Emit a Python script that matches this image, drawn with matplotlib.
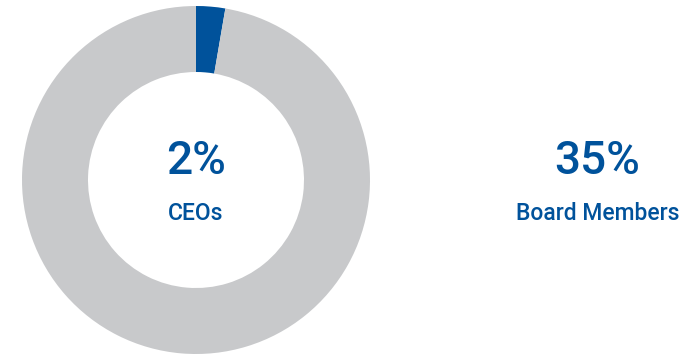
import matplotlib.pyplot as plt

# share of CEOs drawn as the wedge; the remainder is the grey ring
labels = ["CEOs", "Other"]
shares = [2.7, 97.3]
ceo_label = "2%"
board_label = "35%"
board_text = "Board Members"

BLUE = "#00529b"
GREY = "#c8c9cb"

plt.rcParams["font.family"] = ["Roboto", "DejaVu Sans"]

fig = plt.figure(figsize=(6.96, 3.55), dpi=100)
ax = fig.add_axes([0, 0, 1, 1])

ax.pie(shares, colors=[BLUE, GREY], startangle=90, counterclock=False,
       center=(196, 175), radius=174, frame=True,
       wedgeprops=dict(width=66, linewidth=0))
ax.set_xlim(0, 696)
ax.set_ylim(0, 355)
ax.set_aspect("equal")
ax.axis("off")

kw = dict(ha="center", va="center", color=BLUE, fontweight="medium")
ax.text(196, 194, ceo_label, fontsize=33, **kw)
ax.text(196, 142, labels[0], fontsize=16.5, **kw)
ax.text(597, 194, board_label, fontsize=33, **kw)
ax.text(598, 142, board_text, fontsize=16.5, **kw)

fig.savefig("out.png", dpi=100)
